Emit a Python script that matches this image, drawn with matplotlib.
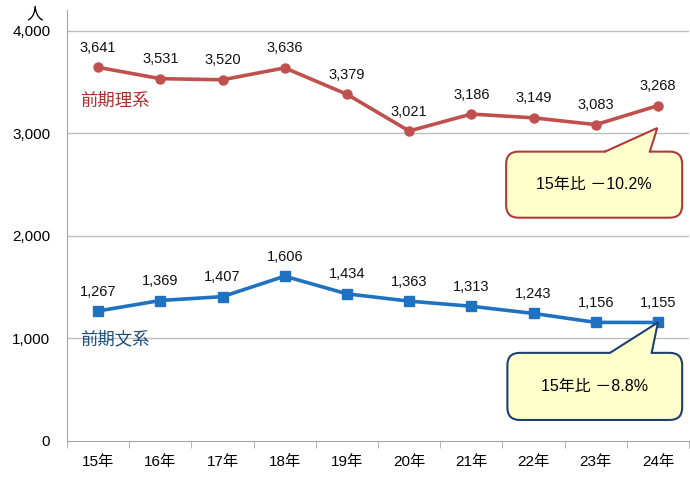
import matplotlib
matplotlib.use("Agg")
import matplotlib.pyplot as plt
from matplotlib.patches import FancyBboxPatch, Polygon

plt.rcParams['font.family'] = ['Liberation Sans', 'Noto Sans CJK JP', 'DejaVu Sans']

# データ
years = ["15年", "16年", "17年", "18年", "19年", "20年", "21年", "22年", "23年", "24年"]
rikei = [3641, 3531, 3520, 3636, 3379, 3021, 3186, 3149, 3083, 3268]
bunkei = [1267, 1369, 1407, 1606, 1434, 1363, 1313, 1243, 1156, 1155]
yticks = [0, 1000, 2000, 3000, 4000]
rikei_note = "15年比 －10.2%"
bunkei_note = "15年比 －8.8%"

RED = "#C0504D"
RED_TXT = "#A8302E"
BLUE = "#1F72C0"
BLUE_TXT = "#1F4E79"
GRID = "#BFBFBF"

fig = plt.figure(figsize=(6.9, 4.79), dpi=100)
ax = fig.add_axes([67 / 690, 38 / 479, 622 / 690, 431 / 479])

x = list(range(len(years)))
ax.plot(x, rikei, color=RED, lw=2.6, marker="o", ms=6.5, zorder=3)
ax.plot(x, bunkei, color=BLUE, lw=2.6, marker="s", ms=6.5, zorder=3)

for xi, v in zip(x, rikei):
    ax.annotate(f"{v:,}", (xi, v), xytext=(0, 14), textcoords="offset points",
                ha="center", va="center", fontsize=10.5, color="#111111")
for xi, v in zip(x, bunkei):
    ax.annotate(f"{v:,}", (xi, v), xytext=(0, 14), textcoords="offset points",
                ha="center", va="center", fontsize=10.5, color="#111111")

ax.text(0.021, 0.79, "前期理系", transform=ax.transAxes, fontsize=12.5,
        color=RED_TXT, ha="left", va="center")
ax.text(0.021, 0.238, "前期文系", transform=ax.transAxes, fontsize=12.5,
        color=BLUE_TXT, ha="left", va="center")

ax.set_xlim(-0.5, len(years) - 0.5)
ax.set_ylim(0, 4200)
ax.set_yticks(yticks)
ax.set_yticklabels([f"{t:,}" for t in yticks], fontsize=11)
ax.set_xticks(x)
ax.set_xticklabels(years, fontsize=11)
ax.set_xticks([i - 0.5 for i in range(len(years) + 1)], minor=True)
ax.tick_params(axis="y", length=0, pad=12)
ax.tick_params(axis="x", which="major", length=0, pad=10)
ax.tick_params(axis="x", which="minor", length=5, color="#A6A6A6")
for t in yticks[1:]:
    ax.axhline(t, color=GRID, lw=1, zorder=1)
for s in ["top", "right"]:
    ax.spines[s].set_visible(False)
ax.spines["left"].set_color("#A6A6A6")
ax.spines["bottom"].set_color("#A6A6A6")

fig.text(35 / 690, 1 - 14 / 479, "人", fontsize=12, ha="center", va="center")

# 吹き出し
asp = 62.2 / 0.1025


def callout(x0, x1, y0, y1, bx0, bx1, tip, edge, text):
    box = FancyBboxPatch((x0, y0), x1 - x0, y1 - y0,
                         boxstyle="round,pad=0,rounding_size=0.2",
                         mutation_aspect=asp, fc="#FFFFCC", ec=edge, lw=1.5,
                         zorder=4, clip_on=False)
    ax.add_patch(box)
    ax.add_patch(Polygon([(bx0, y1 - 15), (bx0, y1), tip, (bx1, y1), (bx1, y1 - 15)],
                         closed=True, fc="#FFFFCC", ec="none", zorder=5, clip_on=False))
    ax.plot([bx0, tip[0], bx1], [y1, tip[1], y1], color=edge, lw=1.5,
            zorder=6, clip_on=False, solid_joinstyle="miter")
    ax.text((x0 + x1) / 2, (y0 + y1) / 2, text, ha="center", va="center",
            fontsize=11.5, zorder=7)


callout(6.56, 9.39, 2176, 2820, 8.15, 8.87, (8.99, 3050), "#B03A3A", rikei_note)
callout(6.58, 9.39, 205, 859, 8.23, 8.9, (9.0, bunkei[-1]), "#1F3F6F", bunkei_note)

fig.savefig("out.png", dpi=100)
